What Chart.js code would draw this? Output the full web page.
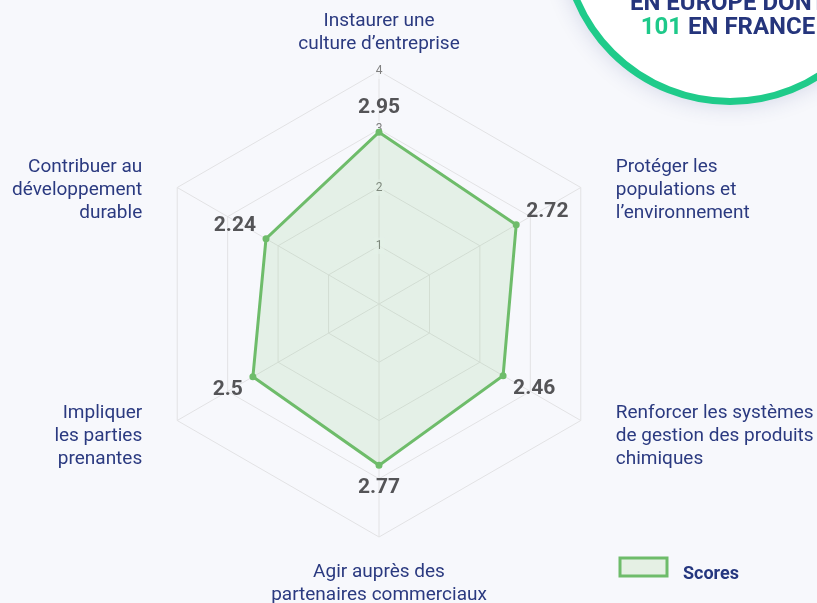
<!DOCTYPE html>
<html>
<head>
<meta charset="utf-8">
<script src="https://cdn.jsdelivr.net/npm/chart.js@4"></script>
<style>
  html, body { margin: 0; padding: 0; background: #f7f8fc; overflow: hidden; }
  #wrap { position: relative; width: 817px; height: 603px; }
  #badge {
    position: absolute; left: 560px; top: -235px; width: 326px; height: 326px;
    border-radius: 50%; background: #fff; border: 7px solid #1fcb8a;
    box-shadow: 0 0 22px rgba(40, 55, 130, 0.18);
    font-family: Roboto, sans-serif; font-weight: 700; color: #25357c;
    font-size: 24px; text-align: center; line-height: 23px;
  }
  #badge .l1 { position: absolute; left: -2px; width: 326px; top: 219px; white-space: nowrap; }
  #badge .l2 { position: absolute; left: -2px; width: 326px; top: 243px; white-space: nowrap; }
  #badge .g { color: #1ec98a; }
  canvas { position: absolute; left: 0; top: 0; }
</style>
</head>
<body>
<div id="wrap">
  <canvas id="radar" width="817" height="603"></canvas>
  <div id="badge"><div class="l1">EN EUROPE DONT</div><div class="l2"><span class="g">101</span> EN FRANCE</div></div>
</div>
<script>
const categories = [
  ['Instaurer une', 'culture d’entreprise'],
  ['Protéger les', 'populations et', 'l’environnement'],
  ['Renforcer les systèmes', 'de gestion des produits', 'chimiques'],
  ['Agir auprès des', 'partenaires commerciaux'],
  ['Impliquer', 'les parties', 'prenantes'],
  ['Contribuer au', 'développement', 'durable']
];
const scores = [2.95, 2.72, 2.46, 2.77, 2.5, 2.24];
const seriesName = 'Scores';

const navy = '#2b3a80';
const green = 'rgb(110, 188, 106)';

const labelPlugin = {
  id: 'labelPlugin',
  afterDatasetsDraw(chart) {
    const ctx = chart.ctx;
    const scale = chart.scales.r;
    const n = categories.length;
    ctx.save();

    // category labels around the web
    ctx.font = '19px Roboto';
    ctx.fillStyle = navy;
    ctx.textBaseline = 'middle';
    for (let i = 0; i < n; i++) {
      const p = scale.getPointPosition(i, scale.drawingArea);
      const lines = categories[i];
      const a = scale.getIndexAngle(i);
      const s = Math.sin(a), c = Math.cos(a);
      let x = p.x, y;
      if (Math.abs(s) < 0.01) {
        ctx.textAlign = 'center';
        y = c > 0 ? p.y - 27 - (lines.length - 1) * 23 : p.y + 35;
      } else {
        ctx.textAlign = s > 0 ? 'left' : 'right';
        x = p.x + (s > 0 ? 35 : -35);
        y = c > 0 ? p.y - 20 : p.y - 7;
      }
      lines.forEach((t, k) => ctx.fillText(t, x, y + k * 23));
    }

    // value labels
    const meta = chart.getDatasetMeta(0);
    ctx.font = 'bold 21px Roboto';
    ctx.fillStyle = '#545457';
    meta.data.forEach((pt, i) => {
      const a = scale.getIndexAngle(i);
      const s = Math.sin(a), c = Math.cos(a);
      const txt = String(scores[i]);
      if (Math.abs(s) < 0.01) {
        ctx.textAlign = 'center';
        ctx.fillText(txt, pt.x, c > 0 ? pt.y - 24 : pt.y + 22);
      } else {
        ctx.textAlign = s > 0 ? 'left' : 'right';
        ctx.fillText(txt, pt.x + (s > 0 ? 10 : -10), c > 0 ? pt.y - 13 : pt.y + 13);
      }
    });

    // legend
    const lx = 620, ly = 558;
    ctx.fillStyle = '#e5f0e4';
    ctx.fillRect(lx, ly, 47, 18);
    ctx.strokeStyle = green;
    ctx.lineWidth = 3;
    ctx.strokeRect(lx, ly, 47, 18);
    ctx.font = 'bold 18px Roboto';
    ctx.fillStyle = '#25377f';
    ctx.textAlign = 'left';
    ctx.fillText(seriesName, 683, 574);
    ctx.restore();
  }
};

new Chart(document.getElementById('radar'), {
  type: 'radar',
  data: {
    labels: categories,
    datasets: [{
      label: seriesName,
      data: scores,
      borderColor: green,
      backgroundColor: 'rgba(110, 188, 106, 0.14)',
      borderWidth: 3,
      pointRadius: 2,
      pointBackgroundColor: green,
      pointBorderColor: green
    }]
  },
  options: {
    responsive: false,
    animation: false,
    layout: { padding: { top: 63, bottom: 57, left: 0, right: 59 } },
    plugins: { legend: { display: false }, tooltip: { enabled: false } },
    scales: {
      r: {
        min: 0,
        max: 4,
        ticks: {
          stepSize: 1,
          font: { size: 12, family: 'Roboto' },
          color: '#808080',
          backdropColor: 'rgba(247, 248, 252, 0.6)',
          backdropPadding: 2,
          callback: v => (v === 0 ? '' : v)
        },
        grid: { color: '#e2e2e4' },
        angleLines: { color: '#e2e2e4' },
        pointLabels: { display: false }
      }
    }
  },
  plugins: [labelPlugin]
});
</script>
</body>
</html>
